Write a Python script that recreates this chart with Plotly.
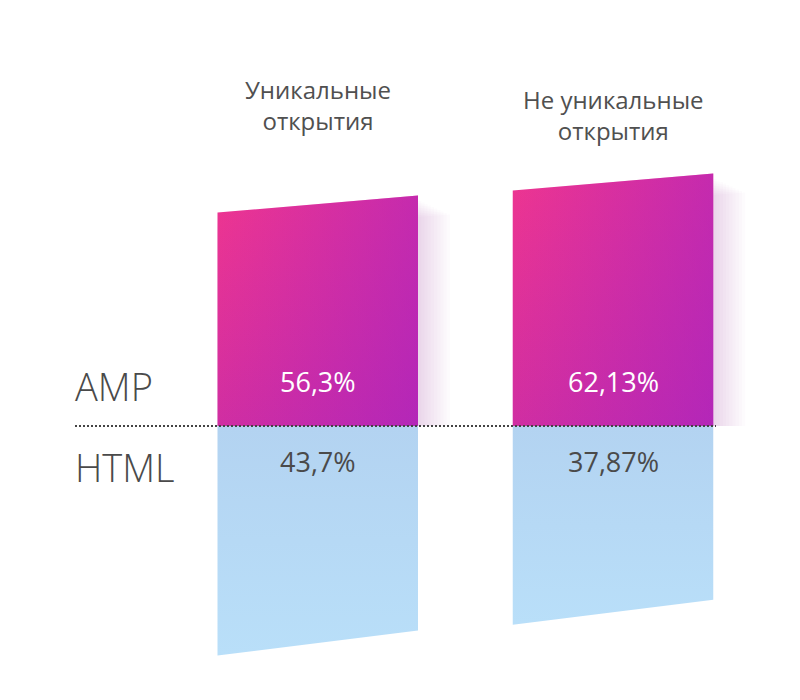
import plotly.graph_objects as go

# ---- data ----
categories = ["Уникальные<br>открытия", "Не уникальные<br>открытия"]
series_names = ["AMP", "HTML"]
amp_values = [56.3, 62.13]
html_values = [43.7, 37.87]

# ---- style / geometry constants ----
OFF = 8                     # page body margin
W, H = 800 - OFF, 700 - OFF
PX_PER_X = 295.25           # pixels per category step
CENTER0_PX = 317.75 - OFF   # pixel centre of first column
HALF_W = 100.25 / PX_PER_X  # half column width in x units
BASE_PX = 426 - OFF         # baseline pixel row (from top)
K_UP = 3.79                 # px per % (AMP)
K_DN = 5.25                 # px per % (HTML)
TILT_UP = 17 / K_UP
TILT_DN = 25 / K_DN

def px_x(p):
    return (p - OFF) / W

def px_y(p):
    return (H - (p - OFF)) / H

x_range = [-CENTER0_PX / PX_PER_X, (W - CENTER0_PX) / PX_PER_X]
base_frac = (H - BASE_PX) / H
up_range = [0, BASE_PX / K_UP]
dn_range = [-(H - BASE_PX) / K_DN, 0]

fig = go.Figure()

def fmt(v):
    return f"{v:g}".replace(".", ",") + "%"

for i, (a, h) in enumerate(zip(amp_values, html_values)):
    c = i
    xl, xr = c - HALF_W, c + HALF_W
    # soft purple glow to the right of the AMP part
    for j in range(1, 11):
        dx = j * 3.2 / PX_PER_X
        dy = (j * 1.5 + 4) / K_UP
        fig.add_trace(go.Scatter(
            x=[xl, xl, xr + dx, xr + dx, xl],
            y=[0, a - dy, a + TILT_UP - dy, 0, 0],
            xaxis="x", yaxis="y2", mode="lines", fill="toself",
            fillcolor="rgba(150,70,175,0.022)", line=dict(width=0),
            hoverinfo="skip", showlegend=False))
    # AMP part (upper)
    fig.add_trace(go.Scatter(
        x=[xl, xl, xr, xr, xl], y=[0, a, a + TILT_UP, 0, 0],
        xaxis="x", yaxis="y2", mode="lines", fill="toself",
        fillgradient=dict(type="vertical",
                          colorscale=[[0, "rgb(208,46,162)"], [1, "rgb(238,53,144)"]]),
        line=dict(width=0), hoverinfo="skip", showlegend=False, name=series_names[0]))
    fig.add_trace(go.Scatter(
        x=[xl, xl, xr, xr, xl], y=[0, a, a + TILT_UP, 0, 0],
        xaxis="x", yaxis="y2", mode="lines", fill="toself",
        fillgradient=dict(type="horizontal",
                          colorscale=[[0, "rgba(140,28,215,0)"], [1, "rgba(140,28,215,0.42)"]]),
        line=dict(width=0), hoverinfo="skip", showlegend=False))
    # HTML part (lower)
    fig.add_trace(go.Scatter(
        x=[xl, xl, xr, xr, xl], y=[0, -h, -h + TILT_DN, 0, 0],
        xaxis="x", yaxis="y", mode="lines", fill="toself",
        fillgradient=dict(type="vertical",
                          colorscale=[[0, "rgb(185,223,249)"], [1, "rgb(179,211,241)"]]),
        line=dict(width=0), hoverinfo="skip", showlegend=False, name=series_names[1]))

annotations = []
title_y_px = [105, 115]
for i, cat in enumerate(categories):
    annotations.append(dict(
        text=cat, x=i, xref="x", y=px_y(title_y_px[i]), yref="paper",
        showarrow=False, xanchor="center", yanchor="middle",
        font=dict(family="Open Sans", size=24, color="#505050")))
    annotations.append(dict(
        text=fmt(amp_values[i]), x=i, xref="x", y=px_y(381), yref="paper",
        showarrow=False, xanchor="center", yanchor="middle",
        font=dict(family="Open Sans", size=27, color="#ffffff")))
    annotations.append(dict(
        text=fmt(html_values[i]), x=i, xref="x", y=px_y(461), yref="paper",
        showarrow=False, xanchor="center", yanchor="middle",
        font=dict(family="Open Sans", size=27, color="#4a4a4a")))

for name, ypx in zip(series_names, [386, 467]):
    annotations.append(dict(
        text=name, x=px_x(73), xref="paper", y=px_y(ypx), yref="paper",
        showarrow=False, xanchor="left", yanchor="middle",
        font=dict(family="Open Sans", size=38, color="#4a4a4a", weight=300)))

fig.update_layout(
    width=W, height=H,
    margin=dict(l=0, r=0, t=0, b=0),
    paper_bgcolor="white", plot_bgcolor="rgba(0,0,0,0)",
    showlegend=False,
    xaxis=dict(domain=[0, 1], range=x_range, visible=False, fixedrange=True),
    yaxis=dict(domain=[0, base_frac], range=dn_range, visible=False, anchor="x"),
    yaxis2=dict(domain=[base_frac, 1], range=up_range, visible=False, anchor="x"),
    annotations=annotations,
    shapes=[dict(type="line", xref="paper", yref="paper",
                 x0=px_x(75), x1=px_x(716), y0=base_frac, y1=base_frac,
                 line=dict(color="#444444", width=2, dash="2px,2px"), layer="above")],
)

fig.write_html("out.html")
